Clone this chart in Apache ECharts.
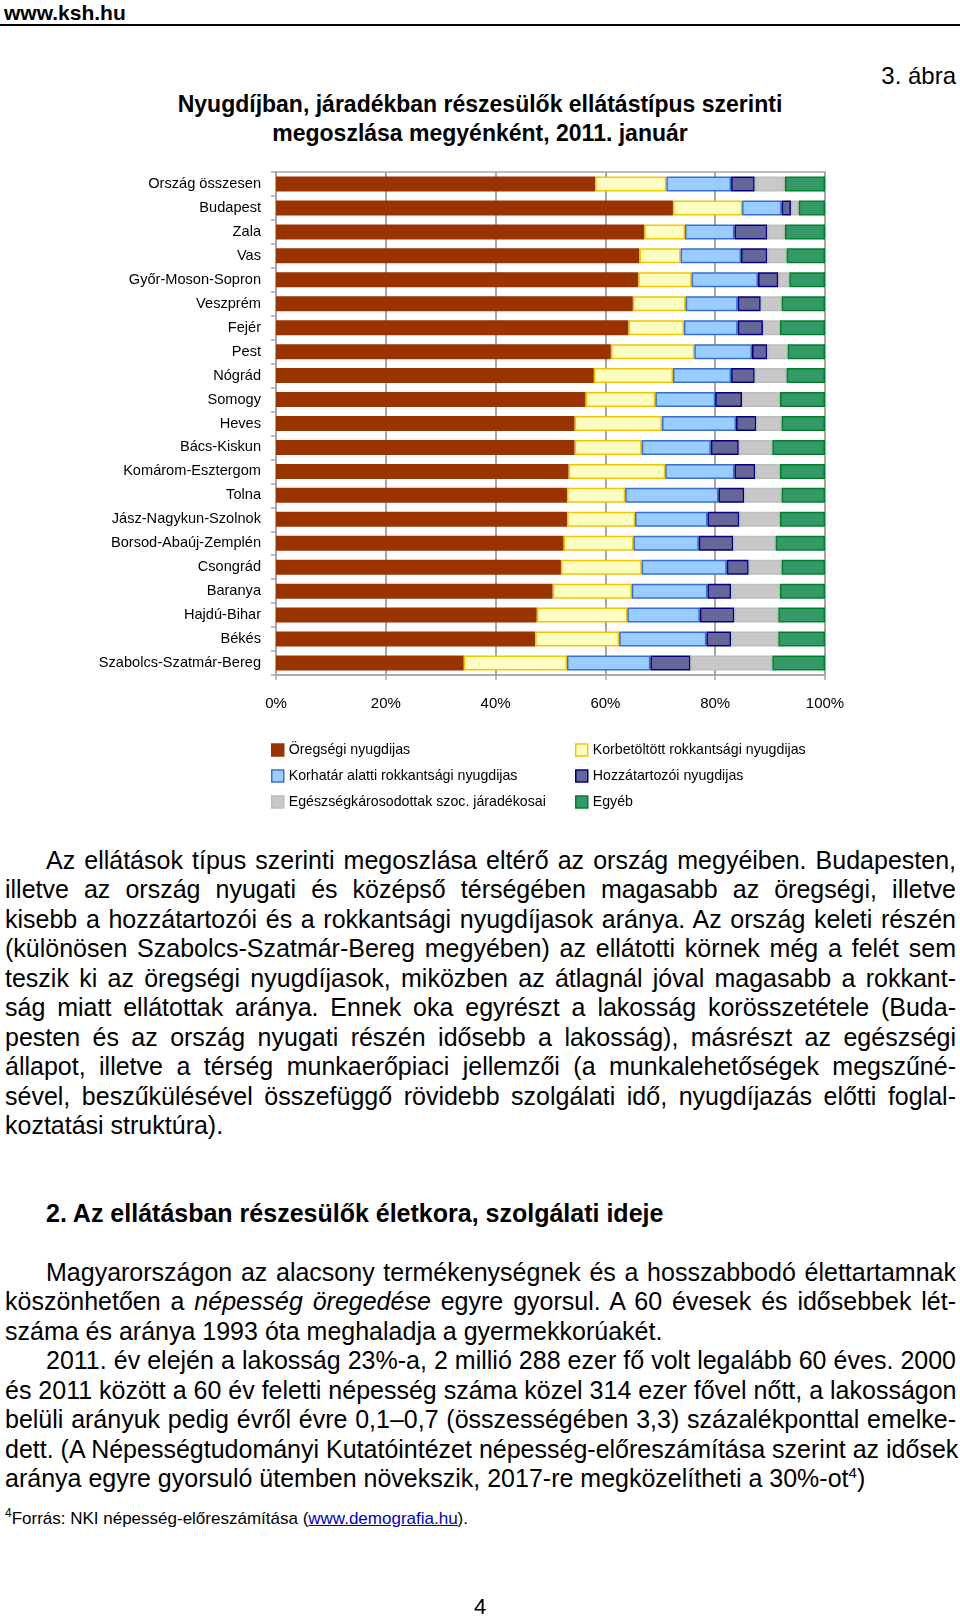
<!DOCTYPE html>
<html>
<head>
<meta charset="utf-8">
<script src="https://cdn.jsdelivr.net/npm/echarts@6/dist/echarts.min.js"></script>
<style>
  html, body { margin: 0; padding: 0; background: #fff; }
  body { width: 960px; height: 1617px; position: relative; overflow: hidden;
         font-family: "Liberation Sans", Arial, sans-serif; color: #000; }
  #chart { position: absolute; left: 0; top: 0; width: 960px; height: 830px; }
  .abs { position: absolute; white-space: nowrap; }
  .block { position: absolute; left: 5px; width: 951px; font-size: 25px; line-height: 29.45px; }
  .block div { text-align: justify; text-align-last: justify; white-space: nowrap; }
  .block div.ind { padding-left: 41px; }
  .block div.last { text-align-last: left; }
  sup { font-size: 60%; line-height: 0; vertical-align: 0.6em; }
</style>
</head>
<body>
<div class="abs" style="left:4px; top:0px; font-size:21px; font-weight:bold; line-height:25px;">www.ksh.hu</div>
<div class="abs" style="left:0; top:24px; width:960px; height:2px; background:#000;"></div>
<div class="abs" style="right:4px; top:62px; font-size:24px; line-height:28px;">3. ábra</div>
<div class="abs" style="left:0; width:960px; top:90px; text-align:center; font-size:23px; font-weight:bold; line-height:29px;">Nyugdíjban, járadékban részesülők ellátástípus szerinti<br>megoszlása megyénként, 2011. január</div>

<div id="chart"></div>

<div class="block" style="top:846px;">
  <div class="ind">Az ellátások típus szerinti megoszlása eltérő az ország megyéiben. Budapesten,</div>
  <div>illetve az ország nyugati és középső térségében magasabb az öregségi, illetve</div>
  <div>kisebb a hozzátartozói és a rokkantsági nyugdíjasok aránya. Az ország keleti részén</div>
  <div>(különösen Szabolcs-Szatmár-Bereg megyében) az ellátotti körnek még a felét sem</div>
  <div>teszik ki az öregségi nyugdíjasok, miközben az átlagnál jóval magasabb a rokkant-</div>
  <div>ság miatt ellátottak aránya. Ennek oka egyrészt a lakosság korösszetétele (Buda-</div>
  <div>pesten és az ország nyugati részén idősebb a lakosság), másrészt az egészségi</div>
  <div>állapot, illetve a térség munkaerőpiaci jellemzői (a munkalehetőségek megszűné-</div>
  <div>sével, beszűkülésével összefüggő rövidebb szolgálati idő, nyugdíjazás előtti foglal-</div>
  <div class="last">koztatási struktúra).</div>
</div>

<div class="abs" style="left:46px; top:1199px; font-size:25px; font-weight:bold; line-height:29px;">2. Az ellátásban részesülők életkora, szolgálati ideje</div>

<div class="block" style="top:1258px;">
  <div class="ind">Magyarországon az alacsony termékenységnek és a hosszabbodó élettartamnak</div>
  <div>köszönhetően a <i>népesség öregedése</i> egyre gyorsul. A 60 évesek és idősebbek lét-</div>
  <div class="last">száma és aránya 1993 óta meghaladja a gyermekkorúakét.</div>
  <div class="ind">2011. év elején a lakosság 23%-a, 2 millió 288 ezer fő volt legalább 60 éves. 2000</div>
  <div>és 2011 között a 60 év feletti népesség száma közel 314 ezer fővel nőtt, a lakosságon</div>
  <div>belüli arányuk pedig évről évre 0,1–0,7 (összességében 3,3) százalékponttal emelke-</div>
  <div>dett. (A Népességtudományi Kutatóintézet népesség-előreszámítása szerint az idősek</div>
  <div class="last">aránya egyre gyorsuló ütemben növekszik, 2017-re megközelítheti a 30%-ot<sup>4</sup>)</div>
</div>

<div class="abs" style="left:5px; top:1508px; font-size:17px; line-height:22px;"><sup style="font-size:70%;">4</sup>Forrás: NKI népesség-előreszámítása (<span style="color:#0000CC; text-decoration:underline;">www.demografia.hu</span>).</div>

<div class="abs" style="left:0; width:960px; top:1594px; text-align:center; font-size:22px; line-height:26px;">4</div>

<script>
const categories = ['Ország összesen','Budapest','Zala','Vas','Győr-Moson-Sopron','Veszprém','Fejér','Pest','Nógrád','Somogy','Heves','Bács-Kiskun','Komárom-Esztergom','Tolna','Jász-Nagykun-Szolnok','Borsod-Abaúj-Zemplén','Csongrád','Baranya','Hajdú-Bihar','Békés','Szabolcs-Szatmár-Bereg'];
const seriesNames = ['Öregségi nyugdijas','Korbetöltött rokkantsági nyugdijas','Korhatár alatti rokkantsági nyugdijas','Hozzátartozói nyugdijas','Egészségkárosodottak szoc. járadékosai','Egyéb'];
const oregsegi      = [58.1,72.3,67.1,66.2,66.0,65.0,64.2,61.0,57.9,56.4,54.4,54.4,53.3,53.0,53.0,52.4,51.9,50.4,47.5,47.2,34.2];
const korbetoltott  = [13.0,12.6, 7.4, 7.5, 9.7, 9.6,10.1,15.2,14.4,12.7,15.9,12.2,17.6,10.6,12.4,12.7,14.7,14.4,16.5,15.3,18.8];
const korhatarAlatt = [11.8, 7.2, 9.0,11.0,12.1, 9.5, 9.8,10.5,10.6,10.9,13.5,12.6,12.6,17.0,13.2,11.9,15.5,13.8,13.2,15.9,15.2];
const hozzatartozoi = [ 4.3, 1.7, 6.0, 4.8, 3.7, 4.2, 4.6, 2.8, 4.3, 4.9, 3.7, 5.1, 3.8, 4.7, 5.8, 6.3, 4.0, 4.3, 6.3, 4.5, 7.3];
const egeszseg      = [ 5.5, 1.4, 3.2, 3.5, 2.0, 3.8, 3.1, 3.7, 5.8, 6.9, 4.6, 6.1, 4.5, 6.8, 7.4, 7.7, 6.0, 8.9, 8.0, 8.6,14.9];
const egyeb         = [ 7.3, 4.8, 7.3, 7.0, 6.5, 7.9, 8.2, 6.8, 7.0, 8.2, 7.9, 9.6, 8.2, 7.9, 8.2, 9.0, 7.9, 8.2, 8.5, 8.5, 9.6];
const xTicks = [0,20,40,60,80,100];

const seriesData = [oregsegi, korbetoltott, korhatarAlatt, hozzatartozoi, egeszseg, egyeb];
const fills   = ['#993300','#FFFFC2','#99CCFF','#666699','#C8C8C8','#339966'];
const borders = ['#993300','#F5C400','#3A6FD0','#000080','#BDBDBD','#00802B'];

const chart = echarts.init(document.getElementById('chart'), null, {renderer: 'canvas'});
const fontFamily = '"Liberation Sans", Arial, sans-serif';
chart.setOption({
  animation: false,
  textStyle: { fontFamily: fontFamily },
  grid: { left: 276, top: 172, width: 549, height: 503, show: true, borderColor: '#A6A6A6', borderWidth: 1.5, containLabel: false },
  xAxis: {
    type: 'value', min: xTicks[0], max: xTicks[xTicks.length-1], interval: 20,
    axisLine: { show: true, lineStyle: { color: '#A6A6A6', width: 1.5 } },
    axisTick: { show: true, length: 5, lineStyle: { color: '#A6A6A6', width: 1.5 } },
    splitLine: { show: true, lineStyle: { color: '#A6A6A6', width: 2 } },
    axisLabel: { formatter: '{value}%', color: '#000', fontSize: 15, margin: 21, fontFamily: fontFamily }
  },
  yAxis: {
    type: 'category', data: categories, inverse: true,
    axisLine: { show: true, lineStyle: { color: '#A6A6A6', width: 1.5 } },
    axisTick: { show: true, length: 5, lineStyle: { color: '#A6A6A6', width: 1.5 } },
    axisLabel: { color: '#000', fontSize: 14.6, margin: 15, fontFamily: fontFamily },
    splitLine: { show: false }
  },
  legend: [
    { left: 266, top: 738, orient: 'vertical', itemWidth: 12, itemHeight: 12, itemGap: 12,
      icon: 'rect', textStyle: { fontSize: 14.2, color: '#000', fontFamily: fontFamily }, itemStyle: {borderWidth: 1.5},
      data: [seriesNames[0], seriesNames[2], seriesNames[4]], selectedMode: false },
    { left: 570, top: 738, orient: 'vertical', itemWidth: 12, itemHeight: 12, itemGap: 12,
      icon: 'rect', textStyle: { fontSize: 14.2, color: '#000', fontFamily: fontFamily }, itemStyle: {borderWidth: 1.5},
      data: [seriesNames[1], seriesNames[3], seriesNames[5]], selectedMode: false }
  ],
  series: seriesNames.map((name, i) => ({
    name: name, type: 'bar', stack: 'total', barWidth: 15,
    data: seriesData[i],
    itemStyle: { color: fills[i], borderColor: borders[i], borderWidth: 1.5 },
    emphasis: { disabled: true }
  }))
});
</script>
</body>
</html>
